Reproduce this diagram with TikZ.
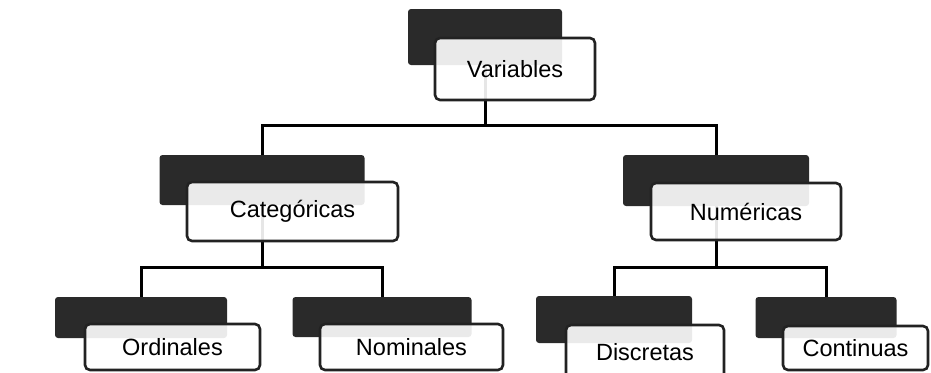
\documentclass[tikz,border=0pt]{standalone}
\usepackage{fontspec}
\setmainfont{Liberation Sans}
\definecolor{shade}{HTML}{2A2A2A}
\definecolor{rim}{HTML}{222222}
\pgfdeclarelayer{wires}
\pgfsetlayers{wires,main}
\tikzset{
  back/.style={fill=shade, rounded corners=3pt, inner sep=0pt},
  front/.style={draw=rim, line width=2.6pt, fill=white, fill opacity=0.9,
    text opacity=1, rounded corners=5pt, inner sep=0pt,
    font=\fontsize{23.5}{27}\selectfont},
  link/.style={draw=black, line width=3pt}
}
\begin{document}
\begin{tikzpicture}[x=1pt, y=-1pt]
  \clip (0,0) rectangle (931,372);

  % dark boxes behind
  \node[back, minimum width=154, minimum height=56] (varB) at (485,37) {};
  \node[back, minimum width=205, minimum height=50] (catB) at (262,180) {};
  \node[back, minimum width=186, minimum height=51] (numB) at (716,180.5) {};
  \node[back, minimum width=172, minimum height=41] (ordB) at (141,317.5) {};
  \node[back, minimum width=179, minimum height=40] (nomB) at (382,317) {};
  \node[back, minimum width=156, minimum height=47] (disB) at (614,319.5) {};
  \node[back, minimum width=141, minimum height=41] (conB) at (826,317.5) {};

  % connectors, kept under the boxes
  \coordinate (busA) at (varB.center |- 0,125);
  \coordinate (busC) at (catB.center |- 0,267);
  \coordinate (busN) at (numB.center |- 0,267);
  \begin{pgfonlayer}{wires}
    \draw[link] (varB.center) -- (busA) -| (catB.north);
    \draw[link] (busA) -| (numB.north);
    \draw[link] (catB.center) -- (busC) -| (ordB.north);
    \draw[link] (busC) -| (nomB.north);
    \draw[link] (numB.center) -- (busN) -| (disB.north);
    \draw[link] (busN) -| (conB.north);
  \end{pgfonlayer}

  % light boxes in front
  \node[front, minimum width=160, minimum height=62] (var) at (515,69) {Variables};
  \node[front, minimum width=211, minimum height=59] (cat) at (292.5,211.5) {Categóricas};
  \node[front, minimum width=190, minimum height=57] (num) at (746,211.5) {Numéricas};
  \node[front, minimum width=175, minimum height=46] (ord) at (172.5,347) {Ordinales};
  \node[front, minimum width=183, minimum height=46] (nom) at (411.5,347) {Nominales};
  \node[front, minimum width=158, minimum height=55] (dis) at (645,352.5) {Discretas};
  \node[front, minimum width=145, minimum height=44] (con) at (855.5,348) {Continuas};
\end{tikzpicture}
\end{document}
